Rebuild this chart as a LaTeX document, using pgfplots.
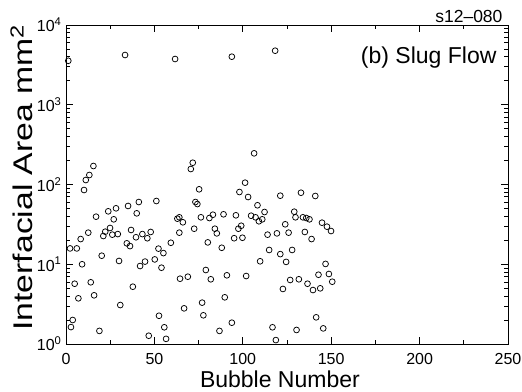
\documentclass[border=0pt]{standalone}
\usepackage{fontspec}
\setmainfont{Liberation Sans}
\usepackage{pgfplots}
\pgfplotsset{compat=1.18}
\usepackage{pgfplotstable}
\pgfplotstableread{
x y
1.3 3560
33.4 4206
61.7 3748
93.8 4006
118.3 4763
15.5 170.6
13.2 131.6
11.2 113.8
10.2 85.3
17.0 39.5
23.9 46.1
28.3 50.3
27.0 36.6
35.1 53.8
41.2 60.3
40.0 43.5
51.1 62.1
63.0 37.3
24.9 28.5
36.8 26.9
12.6 24.9
8.3 20.7
21.1 22.6
22.2 25.6
26.2 23.5
29.3 23.9
39.6 21.8
43.2 23.9
46.0 21.2
47.9 25.4
34.4 18.3
36.2 16.9
59.3 18.6
2.3 15.8
6.1 15.8
20.2 12.8
52.3 15.7
55.1 13.8
9.1 10.0
30.0 11.0
44.7 10.8
41.9 9.5
50.2 11.5
54.0 9.05
64.5 6.59
4.9 5.70
14.0 5.94
37.8 5.23
7.0 3.74
15.9 4.08
30.7 3.08
3.8 2.00
2.8 1.63
18.9 1.46
52.6 2.26
55.6 1.62
46.8 1.27
56.6 1.16
106.4 246
71.7 187.6
70.6 156.4
101.3 105.4
75.3 87.1
98.1 80.5
103.0 69.7
73.2 60.3
74.3 56.9
108.3 54.9
112.3 45.2
121.2 72.4
64.1 38.8
66.1 33.6
76.3 38.8
81.1 38.0
83.1 41.8
89.1 42.3
96.1 41.1
104.7 40.6
107.2 38.8
111.0 36.6
109.1 34.6
72.5 27.9
84.2 27.9
99.1 30.4
97.5 27.9
64.1 24.9
85.3 24.4
95.1 21.2
99.8 21.5
80.2 18.8
88.1 16.1
114.0 23.5
119.3 24.4
114.9 15.1
121.2 13.4
109.8 10.9
79.1 8.47
81.9 6.48
68.9 6.98
91.0 7.27
101.9 7.12
89.8 3.85
77.0 3.30
66.8 2.80
77.7 2.29
93.8 1.85
86.8 1.46
116.8 1.62
118.7 1.12
132.9 78.9
141.0 71.8
129.1 45.6
129.8 38.8
134.0 38.8
135.9 38.0
137.7 36.6
124.0 31.7
144.8 33.2
147.6 29.6
125.9 24.9
135.1 25.4
149.9 26.1
138.9 20.7
127.9 15.1
124.5 10.7
146.8 10.1
142.8 7.39
148.7 7.55
150.6 6.04
126.8 6.35
131.7 6.48
136.6 5.70
139.7 4.75
143.8 4.99
122.7 4.90
141.5 2.16
130.4 1.50
145.5 1.57
}\bubbles
\begin{document}
\begin{tikzpicture}
\begin{axis}[
  at={(0,0)}, anchor=south west,
  scale only axis, width=442pt, height=319pt,
  xmin=0, xmax=250, ymode=log, ymin=1, ymax=10000,
  xtick={0,50,100,150,200,250},
  xticklabels={0,50,100,150,200,250},
  minor xtick={25,75,125,175,225},
  ytick={1,10,100,1000,10000},
  yticklabels={10\textsuperscript{0},10\textsuperscript{1},10\textsuperscript{2},10\textsuperscript{3},10\textsuperscript{4}},
  minor ytick={2,3,4,5,6,7,8,9,20,30,40,50,60,70,80,90,200,300,400,500,600,700,800,900,2000,3000,4000,5000,6000,7000,8000,9000},
  tick align=inside, xtick pos=both, ytick pos=both,
  major tick length=7pt, minor tick length=4pt,
  axis line style={line width=0.9pt},
  every tick/.style={black, line width=0.8pt},
  tick label style={font=\fontsize{16}{16}\selectfont},
  xticklabel style={yshift=-6pt},
  yticklabel style={xshift=-1pt},
  xlabel={Bubble Number},
  xlabel style={font=\fontsize{23}{23}\selectfont, at={(axis description cs:0.484,-0.135)}, anchor=base},
  ylabel={\scalebox{1.25}[1]{Interfacial Area mm\textsuperscript{2}}},
  ylabel style={font=\fontsize{27}{27}\selectfont, at={(axis description cs:-0.1,0.522)}, anchor=center},
]
\addplot[only marks, mark=o, mark size=2.9pt, mark options={line width=0.75pt, black}] table {\bubbles};
\node[anchor=base east, font=\fontsize{23}{23}\selectfont] at (axis description cs:1,1) [xshift=-8pt, yshift=-38pt] {(b) Slug Flow};
\end{axis}
\node[anchor=base east, font=\fontsize{17.5}{17.5}\selectfont] at ([xshift=-2pt, yshift=3pt]current axis.north east) {s12--080};
\pgfresetboundingbox
\path[use as bounding box] (-66pt,-47pt) rectangle (456pt,344pt);
\end{tikzpicture}
\end{document}
